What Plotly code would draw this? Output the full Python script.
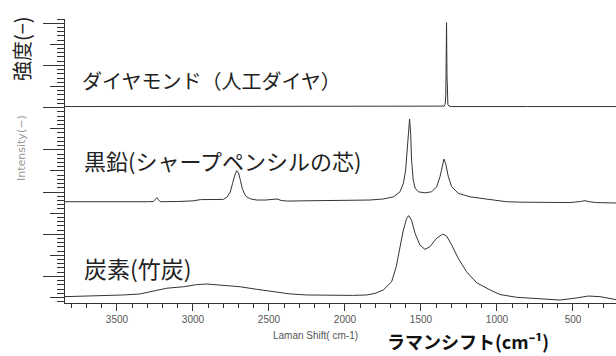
import plotly.graph_objects as go

# ---- data ----
diamond_wn = [3842, 3000, 2520, 2500, 2450, 2400, 2380, 2000, 1500, 1360, 1348, 1341, 1337, 1335, 1333,
              1332, 1331, 1329, 1327, 1323, 1316, 1300, 800, 217]
diamond_int = [0, 0, 0, 0.03, 0.03, 0.03, 0, 0, 0, 0, 0.02, 0.1, 0.5, 1.6, 3.5,
               3.98, 3.3, 1.5, 0.5, 0.1, 0.02, 0, 0, 0]

graphite_wn = [3842, 3700, 3500, 3300, 3260, 3248, 3238, 3228, 3215, 3100, 3000, 2950, 2900, 2850, 2800,
               2776, 2755, 2740, 2725, 2712, 2700, 2688, 2675, 2660, 2647, 2620, 2581, 2520, 2470, 2447,
               2420, 2380, 2300, 2100, 1950, 1836, 1748, 1682, 1638, 1616, 1601, 1590, 1581, 1575, 1568,
               1562, 1551, 1539, 1517, 1474, 1430, 1397, 1375, 1357, 1349, 1338, 1320, 1298, 1255, 1177,
               1068, 937, 850, 700, 520, 450, 421, 400, 350, 217]
graphite_int = [0.04, 0.03, 0.04, 0.04, 0.05, 0.15, 0.23, 0.14, 0.04, 0.05, 0.08, 0.14, 0.15, 0.13, 0.15,
                0.26, 0.5, 0.9, 1.3, 1.51, 1.4, 1.05, 0.65, 0.4, 0.27, 0.17, 0.12, 0.12, 0.15, 0.17,
                0.1, 0.07, 0.08, 0.09, 0.1, 0.12, 0.17, 0.27, 0.51, 0.91, 1.54, 2.49, 3.44, 3.96, 3.29,
                2.01, 1.07, 0.69, 0.51, 0.46, 0.51, 0.75, 1.22, 1.86, 2.06, 1.86, 1.22, 0.75, 0.44, 0.27,
                0.15, 0.04, 0.02, 0.0, 0.0, 0.05, 0.09, 0.05, 0.0, -0.02]

carbon_wn = [3842, 3678, 3458, 3348, 3283, 3173, 3064, 2976, 2910, 2800, 2690, 2581, 2471, 2362, 2252,
             2077, 1950, 1857, 1800, 1748, 1693, 1663, 1638, 1616, 1594, 1581, 1562, 1539, 1507, 1474,
             1441, 1397, 1357, 1331, 1298, 1255, 1200, 1134, 1046, 980, 870, 697, 585, 476, 399,
             322, 256, 217]
carbon_int = [0.04, 0.07, 0.12, 0.17, 0.27, 0.44, 0.51, 0.61, 0.64, 0.59, 0.51, 0.39, 0.27, 0.17, 0.12,
              0.09, 0.1, 0.12, 0.2, 0.36, 0.75, 1.46, 2.41, 3.2, 3.75, 3.88, 3.67, 3.04, 2.49, 2.28,
              2.41, 2.81, 3.01, 2.91, 2.49, 1.86, 1.22, 0.70, 0.36, 0.14, 0.01, -0.09, -0.12, -0.02, 0.07,
              0.04, -0.04, -0.1]

offsets = [9.05, 4.5, 0.0]
labels = ["ダイヤモンド（人工ダイヤ）", "黒鉛(シャープペンシルの芯)", "炭素(竹炭)"]

x_range = [3842, 217]
y_range = [-0.26, 13.2]

FONT = "Noto Sans CJK JP"
LINE = "#333333"

fig = go.Figure()
for wn, it, off in [(diamond_wn, diamond_int, offsets[0]),
                    (graphite_wn, graphite_int, offsets[1]),
                    (carbon_wn, carbon_int, offsets[2])]:
    fig.add_trace(go.Scatter(x=wn, y=[v + off for v in it], mode="lines",
                             line=dict(color=LINE, width=1), hoverinfo="skip", showlegend=False))

# invisible trace to anchor the second (long tick) y axis
fig.add_trace(go.Scatter(x=[3000], y=[0], yaxis="y2", mode="markers",
                         marker=dict(opacity=0), showlegend=False, hoverinfo="skip"))

W, H = 616, 356
L, R, T, B = 65, 0, 19, 53
pw, ph = W - L - R, H - T - B


def px(x):
    return (x - L) / pw


def py(y):
    return (H - B - y) / ph


fig.update_layout(
    width=W, height=H,
    margin=dict(l=L, r=R, t=T, b=B),
    plot_bgcolor="white", paper_bgcolor="white",
    font=dict(family=FONT, color="#222"),
    xaxis=dict(range=x_range, showline=True, linecolor=LINE, linewidth=1,
               ticks="outside", ticklen=7, tickcolor=LINE, dtick=500, tick0=0,
               tickfont=dict(size=10, color="#555", family="Liberation Sans"),
               showgrid=False, zeroline=False,
               minor=dict(dtick=100, ticklen=4, ticks="outside", tickcolor=LINE)),
    yaxis=dict(range=y_range, showline=True, linecolor=LINE, linewidth=1,
               ticks="outside", ticklen=14, tickcolor=LINE, dtick=1, tick0=0,
               showticklabels=False, showgrid=False, zeroline=False,
               minor=dict(dtick=0.2, ticklen=7, ticks="outside", tickcolor=LINE)),
    yaxis2=dict(range=y_range, overlaying="y", side="left", ticks="outside", ticklen=21,
                tickcolor=LINE, dtick=2, tick0=1, showticklabels=False, showgrid=False,
                zeroline=False, showline=False),
)

ann = [
    dict(text=labels[0], x=px(80), y=py(80), xanchor="left", yanchor="middle", font=dict(size=20)),
    dict(text=labels[1], x=px(82), y=py(160), xanchor="left", yanchor="middle", font=dict(size=22)),
    dict(text=labels[2], x=px(82), y=py(268), xanchor="left", yanchor="middle", font=dict(size=23)),
    dict(text="強度(−)", x=px(22), y=py(49), xanchor="center", yanchor="middle", textangle=-90,
         font=dict(size=20)),
    dict(text="Intensity(−)", x=px(21), y=py(148), xanchor="center", yanchor="middle", textangle=-90,
         font=dict(size=11, color="#999", family="DejaVu Sans")),
    dict(text="Laman Shift( cm-1)", x=px(315), y=py(335), xanchor="center", yanchor="middle",
         font=dict(size=10, color="#555", family="Liberation Sans")),
    dict(text="<b>ラマンシフト(cm⁻¹)</b>", x=px(468), y=py(341), xanchor="center",
         yanchor="middle", font=dict(size=18, color="#111")),
]
for a in ann:
    a.update(xref="paper", yref="paper", showarrow=False)
    fig.add_annotation(**a)

fig.write_html("out.html")
